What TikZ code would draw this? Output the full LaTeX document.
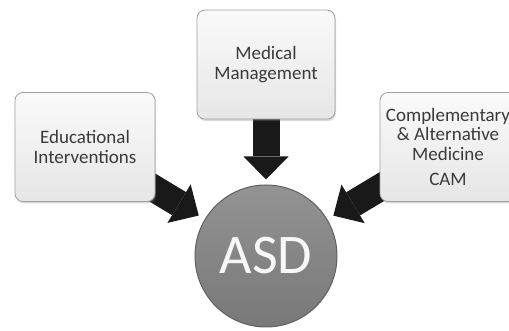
\documentclass[tikz,border=0pt]{standalone}
\usepackage{fontspec}
\setmainfont{Carlito}
\definecolor{gris}{RGB}{128, 128, 128}
\definecolor{grisclaro}{RGB}{230, 230, 230}
\definecolor{grisborde}{RGB}{160, 160, 160}
\definecolor{texto}{RGB}{58, 58, 58}
\usetikzlibrary{arrows.meta}
\usetikzlibrary{positioning, backgrounds, shadows}

\begin{document}
\begin{tikzpicture}[x=1pt, y=1pt,
    caja/.style={draw=grisborde, line width=0.8pt, rounded corners=8pt, top color=white!96!gray, bottom color=grisclaro, minimum width=138pt, minimum height=109pt, align=center, text=texto, font=\fontsize{19}{19.5}\selectfont, drop shadow={opacity=0.3, shadow xshift=1pt, shadow yshift=-2pt}},
    flecha/.style={line width=27pt, black!90, shorten >=7pt, -{Triangle[width=45pt, length=23pt, line width=0pt]}}]
    \useasboundingbox (0,0) rectangle (509,331);

    % ASD circle
    \node[circle, draw=gris!75!black, line width=1pt, top color=gris!85!white, bottom color=gris!94!black, minimum size=142pt, inner sep=0pt, text=white!94!gray, font=\fontsize{56}{56}\selectfont] (asd) at (266,75) {\raisebox{-4pt}{ASD}};

    % Boxes
    \node[caja] (med) [above=65pt of asd] {Medical\\Management};
    \node[caja, minimum width=140pt] (edu) at (85,184) {Educational\\Interventions};
    \node[caja, minimum width=136pt] (cam) at (448,184) {Complementary\\\& Alternative\\Medicine\\[6pt]CAM};

    % Arrows into ASD
    \begin{scope}[on background layer]
        \draw[flecha, shorten >=5pt] (med.center) -- (asd);
        \draw[flecha] (edu.center) -- (asd);
        \draw[flecha] (cam.center) -- (asd);
    \end{scope}
\end{tikzpicture}
\end{document}
